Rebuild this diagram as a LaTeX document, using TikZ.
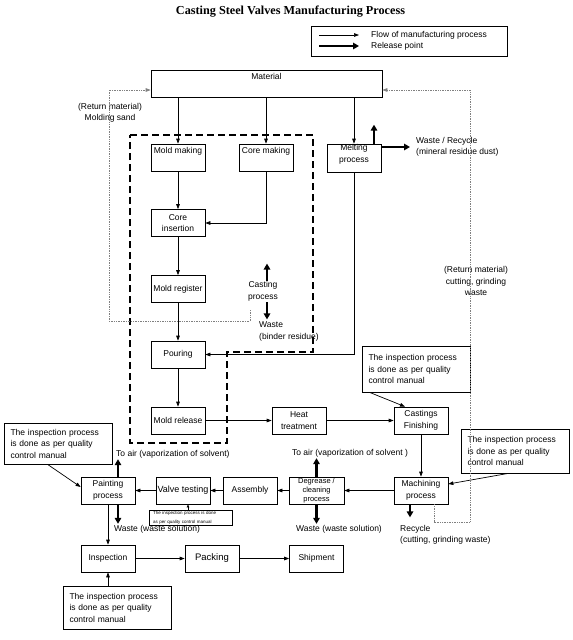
\documentclass[tikz,border=0pt]{standalone}
\usepackage{fontspec}
\setmainfont{Liberation Serif}
\setsansfont{Liberation Sans}
\usetikzlibrary{arrows.meta,positioning}

\tikzset{
	stepbox/.style={draw, line width=0.7pt, minimum width=54pt, minimum height=27pt, inner sep=1pt, align=center, font=\sffamily\fontsize{8.5}{11.5}\selectfont},
	toplabel/.style={label={[info, anchor=north, inner sep=3pt]north:#1}},
	notebox/.style={draw, line width=0.7pt, text width=96pt, inner xsep=6pt, inner ysep=4pt, minimum height=44pt, align=left, font=\sffamily\fontsize{8.5}{11.5}\selectfont},
	info/.style={inner sep=1pt, align=center, font=\sffamily\fontsize{8.5}{11.5}\selectfont},
	flow/.style={line width=0.7pt, -{Triangle[length=5pt,width=3.6pt]}},
	release/.style={line width=2.2pt, -{Triangle[length=6pt,width=6.5pt]}},
	returnline/.style={gray, line width=0.7pt, densely dotted, -{Triangle[length=5pt,width=3.6pt]}},
	castzone/.style={line width=1.5pt, dash pattern=on 7pt off 4pt}
}

\begin{document}
\begin{tikzpicture}[x=1pt, y=-1pt]
	\useasboundingbox (0,0) rectangle (573,640);

	% title and legend
	\node[font=\bfseries\fontsize{12.2}{14}\selectfont] (title) at (290.5,12) {Casting Steel Valves Manufacturing Process};
	\node[draw, line width=0.7pt, minimum width=196pt, minimum height=30pt] (legend) at (409,41) {};
	\node[info, anchor=west] (legFlow) at (370,35) {Flow of manufacturing process};
	\node[info, anchor=west] (legRelease) at (370,46) {Release point};
	\draw[flow] ([xshift=-51pt]legFlow.west) -- ([xshift=-11pt]legFlow.west);
	\draw[release] ([xshift=-51pt]legRelease.west) -- ([xshift=-11pt]legRelease.west);

	% steps of the process
	\node[stepbox, minimum width=231pt, toplabel=Material] (material) at (266.5,83.5) {};
	\node[stepbox, toplabel=Mold making] (mold) at (178,157.5) {};
	\node[stepbox, toplabel=Core making] (core) at (266,157.5) {};
	\node[stepbox, minimum height=28pt, label={[info, anchor=north, inner sep=0.5pt]north:{Melting\\process}}] (melt) at (354,158) {};
	\node[stepbox] (coreins) at (178,223) {Core\\insertion};
	\node[stepbox] (moldreg) at (178,289) {Mold register};
	\node[stepbox] (pour) at (178,354.5) {Pouring};
	\node[stepbox] (moldrel) at (178,420.5) {Mold release};
	\node[stepbox] (heat) at (299,420.5) {Heat\\treatment};
	\node[stepbox] (finish) at (421,420.5) {Castings\\Finishing};
	\node[stepbox] (machining) at (421,490.5) {Machining\\process};
	\node[stepbox, minimum width=55pt, font=\sffamily\fontsize{7.5}{9}\selectfont] (degrease) at (316.5,490.5) {Degrease /\\cleaning\\process};
	\node[stepbox] (assembly) at (250,490.5) {Assembly};
	\node[stepbox, font=\sffamily\fontsize{9}{11}\selectfont] (testing) at (183,490.5) {Valve testing};
	\node[stepbox] (painting) at (108,490.5) {Painting\\process};
	\node[stepbox] (inspection) at (108,558.5) {Inspection};
	\node[stepbox, font=\sffamily\fontsize{9.5}{11}\selectfont] (packing) at (212,558.5) {Packing};
	\node[stepbox] (shipment) at (316.5,558.5) {Shipment};

	% casting process area
	\draw[castzone] (130,135) -- (313,135) -- (313,352) -- (227,352) -- (227,443) -- (130,443) -- cycle;

	% inspection notes
	\node[notebox, minimum height=46pt] (noteFinish) at (416.5,369) {The inspection process\\is done as per quality\\control manual};
	\node[notebox] (noteMach) at (515.5,451) {The inspection process\\is done as per quality\\control manual};
	\node[notebox, minimum height=41pt] (notePaint) at (58.5,443.5) {The inspection process\\is done as per quality\\control manual};
	\node[notebox, minimum height=43pt] (noteInsp) at (117.5,607.5) {The inspection process\\is done as per quality\\control manual};
	\node[draw, line width=0.5pt, text width=75pt, inner xsep=4pt, inner ysep=1pt, minimum height=15pt, font=\sffamily\fontsize{4.5}{9}\selectfont] (noteTest) at (190.5,517.5) {The inspection process is done\\as per quality control manual};

	% releases and returns
	\node[info] (sandText) at (110,113) {(Return material)\\Molding sand};
	\node[info, align=left, anchor=west] (meltWaste) at (415,147) {Waste / Recycle\\(mineral residue dust)};
	\node[info] (castproc) at (263,291.5) {Casting\\process};
	\node[info, align=left, anchor=west] (binderWaste) at (258,331.5) {Waste\\(binder residue)};
	\node[info] (chipText) at (476,281) {(Return material)\\cutting, grinding\\waste};
	\node[info, anchor=west] (airPaint) at (115,454) {To air (vaporization of solvent)};
	\node[info, anchor=west] (wastePaint) at (113,529) {Waste (waste solution)};
	\node[info] (airDeg) at (350,453) {To air (vaporization of solvent )};
	\node[info] (wasteDeg) at (339,529) {Waste (waste solution)};
	\node[info, align=left, anchor=west] (chipWaste) at (399,535) {Recycle\\(cutting, grinding waste)};

	% flow of manufacturing process
	\draw[flow] (material.south -| mold) -- (mold);
	\draw[flow] (material.south -| core) -- (core);
	\draw[flow] (material.south -| melt) -- (melt);
	\draw[flow] (mold) -- (coreins);
	\draw[flow] (core) |- (coreins);
	\draw[flow] (coreins) -- (moldreg);
	\draw[flow] (moldreg) -- (pour);
	\draw[flow] (melt) |- (pour);
	\draw[flow] (pour) -- (moldrel);
	\draw[flow] (moldrel) -- (heat);
	\draw[flow] (heat) -- (finish);
	\draw[flow] (finish) -- (machining);
	\draw[flow] (machining) -- (degrease);
	\draw[flow] (degrease) -- (assembly);
	\draw[flow] (assembly) -- (testing);
	\draw[flow] (testing) -- (painting);
	\draw[flow] (painting) -- (inspection);
	\draw[flow] (inspection) -- (packing);
	\draw[flow] (packing) -- (shipment);

	% notes point to their steps
	\draw[flow] ([xshift=-47pt]noteFinish.south) -- ([xshift=-16pt]finish.north);
	\draw[flow] ([xshift=-7pt]noteMach.south) -- ([yshift=6.5pt]machining.east);
	\draw[flow] ([xshift=-11pt]notePaint.south) -- ([yshift=3.5pt]painting.west);
	\draw[flow] (noteInsp.north -| inspection) -- (inspection);
	\draw[line width=0.5pt, -{Triangle[length=3pt,width=2.5pt]}] ([xshift=-2.5pt]noteTest.north) -- ([xshift=-2.5pt]noteTest.north |- testing.south);

	% release points
	\draw[release] ([xshift=20pt]melt.north) -- ++(0,-19);
	\draw[release] ([yshift=11pt]melt.east) -- ([xshift=-5pt]meltWaste.west);
	\draw[release] ([xshift=4pt]castproc.north) -- ++(0,-17);
	\draw[release] ([xshift=4pt]castproc.south) -- ++(0,17);
	\draw[release] (degrease.north) -- (degrease.north |- airDeg.south);
	\draw[release] (degrease.south) -- (degrease.south |- wasteDeg.north);
	\draw[release] ([xshift=-11pt]machining.south) -- ++(0,13);
	\draw[release] ([xshift=10pt]painting.north) -- ([xshift=10pt]painting.north |- airPaint.south);
	\draw[release] ([xshift=10pt]painting.south) -- ([xshift=10pt]painting.south |- wastePaint.north);

	% return material
	\coordinate (sandStart) at (250,310);
	\draw[returnline] (sandStart) |- (109,321) |- ([yshift=-6.5pt]material.west);
	\draw[returnline] ([xshift=13pt]machining.south) |- (470,522) |- ([yshift=-6.5pt]material.east);
\end{tikzpicture}
\end{document}
